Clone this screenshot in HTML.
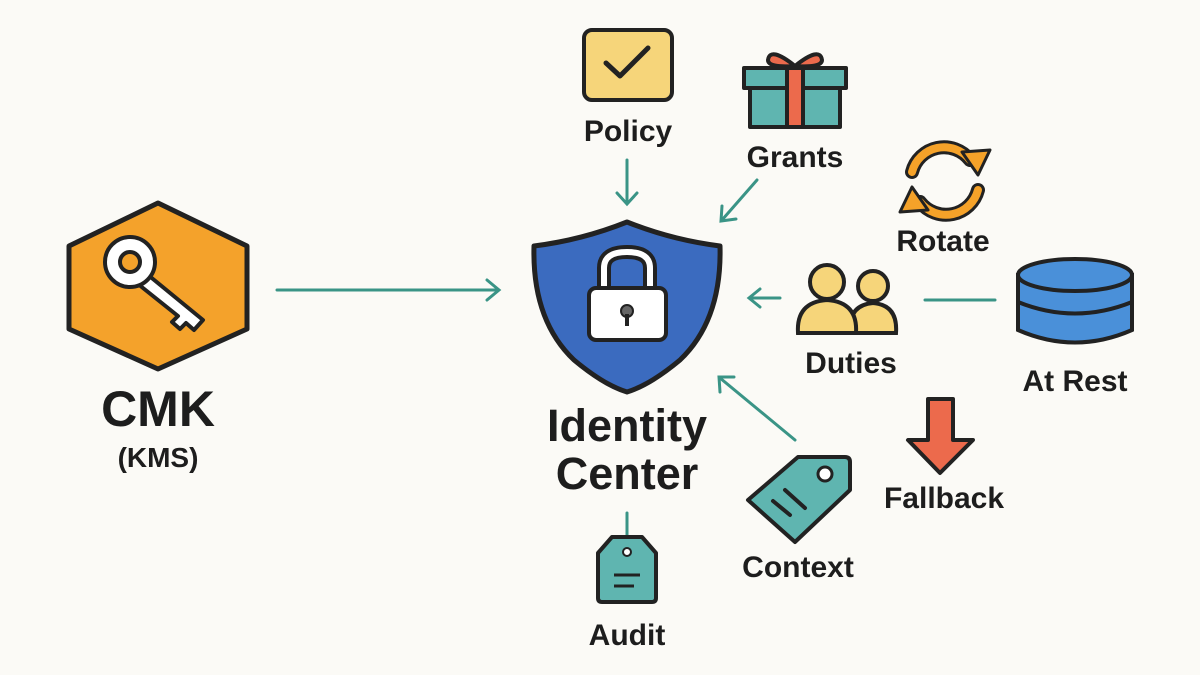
<!DOCTYPE html>
<html><head><meta charset="utf-8"><style>
html,body{margin:0;padding:0;background:#fbfaf6;}
svg{display:block}
text{font-family:"Liberation Sans",sans-serif;fill:#1d1d1d;text-anchor:middle;font-weight:bold}
</style></head><body>
<svg width="1200" height="675" viewBox="0 0 1200 675" xmlns="http://www.w3.org/2000/svg">
<rect width="1200" height="675" fill="#fbfaf6"/>
<g stroke="#3a9486" stroke-width="3" fill="none" stroke-linecap="round">
<line x1="277" y1="290" x2="498" y2="290"/>
<path d="M487,280 L499,290 L487,300"/>
<line x1="627" y1="160" x2="627" y2="203"/>
<path d="M617,193 L627,204 L637,193"/>
<line x1="757" y1="180" x2="722" y2="220"/>
<path d="M722,206 L721,221 L736,219"/>
<line x1="780" y1="298" x2="750" y2="298"/>
<path d="M760,289 L749,298 L760,307"/>
<line x1="925" y1="300" x2="995" y2="300"/>
<line x1="795" y1="440" x2="720" y2="378"/>
<path d="M720,392 L719,377 L734,377"/>
<line x1="627" y1="513" x2="627" y2="535"/>
</g>
<!-- CMK hexagon -->
<path d="M158,203 L247,246 L247,329 L158,369 L69,329 L69,246 Z" fill="#f4a22b" stroke="#222" stroke-width="5" stroke-linejoin="round"/>
<g stroke="#222" stroke-width="4" stroke-linejoin="round">
<path d="M142,270 L203,320 L194,330 L186,323 L180,329 L172,322 L178,316 L133,280 Z" fill="#fff"/>
<circle cx="130" cy="262" r="25" fill="#fff"/>
<circle cx="130" cy="262" r="10" fill="#f4a22b"/>
</g>
<text x="158" y="426" font-size="50">CMK</text>
<text x="158" y="467" font-size="28">(KMS)</text>
<!-- Shield -->
<path d="M627,222 Q672,240 720,246 Q722,320 680,360 Q650,385 627,392 Q604,385 574,360 Q532,320 534,246 Q582,240 627,222 Z" fill="#3b6bbf" stroke="#222" stroke-width="5" stroke-linejoin="round"/>
<path d="M604,292 L604,268 Q604,252 627,252 Q650,252 650,268 L650,292" fill="none" stroke="#222" stroke-width="14"/>
<path d="M604,292 L604,268 Q604,252 627,252 Q650,252 650,268 L650,292" fill="none" stroke="#fff" stroke-width="6"/>
<rect x="589" y="288" width="77" height="52" rx="7" fill="#fff" stroke="#222" stroke-width="4"/>
<circle cx="627" cy="311" r="6" fill="#666" stroke="#222" stroke-width="2"/>
<rect x="625" y="314" width="4" height="12" fill="#222"/>
<text x="627" y="441" font-size="45">Identity</text>
<text x="627" y="489" font-size="45">Center</text>
<!-- Policy -->
<rect x="584" y="30" width="88" height="70" rx="8" fill="#f6d57a" stroke="#222" stroke-width="4"/>
<path d="M606,63 L620,76 L648,48" fill="none" stroke="#222" stroke-width="5" stroke-linecap="round" stroke-linejoin="round"/>
<text x="628" y="141" font-size="30">Policy</text>
<!-- Grants -->
<g stroke="#222" stroke-width="4" stroke-linejoin="round">
<rect x="750" y="85" width="90" height="42" fill="#5fb5b0"/>
<rect x="744" y="68" width="102" height="20" fill="#5fb5b0"/>
<rect x="787" y="68" width="16" height="59" fill="#ec6a4c"/>
<path d="M795,66 Q770,46 768,60 Q768,68 795,66 Q820,46 822,60 Q822,68 795,66 Z" fill="#ec6a4c"/>
</g>
<text x="795" y="167" font-size="30">Grants</text>
<!-- Rotate -->
<g fill="none" stroke="#222" stroke-width="14" stroke-linecap="round">
<path d="M912,172 A33,33 0 0 1 970,160"/>
<path d="M978,190 A33,33 0 0 1 920,202"/>
</g>
<g fill="none" stroke="#f5a229" stroke-width="8" stroke-linecap="round">
<path d="M912,172 A33,33 0 0 1 970,160"/>
<path d="M978,190 A33,33 0 0 1 920,202"/>
</g>
<path d="M962,152 L990,150 L978,175 Z" fill="#f5a229" stroke="#222" stroke-width="3" stroke-linejoin="round"/>
<path d="M928,210 L900,212 L912,187 Z" fill="#f5a229" stroke="#222" stroke-width="3" stroke-linejoin="round"/>
<text x="943" y="251" font-size="30">Rotate</text>
<!-- Duties -->
<g stroke="#222" stroke-width="4" fill="#f6d57a">
<path d="M850,333 L896,333 Q898,305 873,303 Q848,305 850,333 Z"/>
<circle cx="873" cy="286" r="15"/>
<path d="M798,333 L856,333 Q858,302 827,300 Q796,302 798,333 Z"/>
<circle cx="827" cy="282" r="17"/>
</g>
<text x="851" y="373" font-size="30">Duties</text>
<!-- Database -->
<g stroke="#222" stroke-width="4" fill="#4a90d9">
<path d="M1018,275 L1018,330 Q1075,355 1132,330 L1132,275 Z"/>
<path d="M1018,302 Q1075,325 1132,302" fill="none"/>
<ellipse cx="1075" cy="275" rx="57" ry="16"/>
</g>
<text x="1075" y="391" font-size="30">At Rest</text>
<!-- Fallback -->
<path d="M928,399 L953,399 L953,440 L973,440 L940,473 L908,440 L928,440 Z" fill="#ec6a4c" stroke="#222" stroke-width="4" stroke-linejoin="round"/>
<text x="944" y="508" font-size="30">Fallback</text>
<!-- Context -->
<path d="M798,457 L845,457 Q850,457 850,462 L850,490 L795,542 L748,500 Z" fill="#5fb5b0" stroke="#222" stroke-width="4" stroke-linejoin="round"/>
<circle cx="825" cy="474" r="7" fill="#fff" stroke="#222" stroke-width="3"/>
<line x1="773" y1="501" x2="790" y2="515" stroke="#222" stroke-width="4" stroke-linecap="round"/>
<line x1="785" y1="490" x2="805" y2="508" stroke="#222" stroke-width="4" stroke-linecap="round"/>
<text x="798" y="577" font-size="30">Context</text>
<!-- Audit -->
<path d="M612,537 L642,537 L656,553 L656,598 Q656,602 652,602 L602,602 Q598,602 598,598 L598,553 Z" fill="#5fb5b0" stroke="#222" stroke-width="4" stroke-linejoin="round"/>
<circle cx="627" cy="552" r="4" fill="#fff" stroke="#222" stroke-width="2"/>
<line x1="614" y1="575" x2="640" y2="575" stroke="#222" stroke-width="3"/>
<line x1="614" y1="586" x2="634" y2="586" stroke="#222" stroke-width="3"/>
<text x="627" y="645" font-size="30">Audit</text>
</svg>
</body></html>
